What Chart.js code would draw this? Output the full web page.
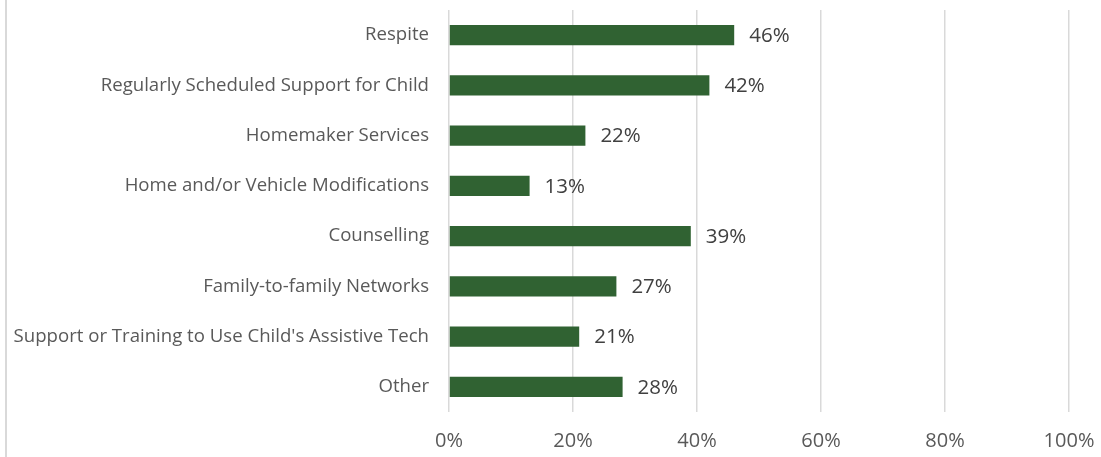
<!DOCTYPE html>
<html>
<head>
<meta charset="utf-8">
<script src="https://cdn.jsdelivr.net/npm/chart.js@4.4.0/dist/chart.umd.min.js"></script>
<style>
  html, body { margin: 0; padding: 0; background: #fff; }
  #wrap { position: relative; width: 1101px; height: 457px; }
  #frame { position: absolute; left: 5px; top: 0; width: 2px; height: 457px; background: #d9d9d9; }
</style>
</head>
<body>
<div id="wrap">
  <div id="frame"></div>
  <canvas id="chart" width="1101" height="457"></canvas>
</div>
<script>
const categories = [
    'Respite',
    'Regularly Scheduled Support for Child',
    'Homemaker Services',
    'Home and/or Vehicle Modifications',
    'Counselling',
    'Family-to-family Networks',
    "Support or Training to Use Child's Assistive Tech",
    'Other'
];
const percentages = [46, 42, 22, 13, 39, 27, 21, 28];
const xTicks = [0, 20, 40, 60, 80, 100];

const FONT = '"Open Sans", Lato, sans-serif';

// Draws the percent label to the right of each bar
const barLabels = {
    id: 'barLabels',
    afterDatasetsDraw(chart) {
        const ctx = chart.ctx;
        const meta = chart.getDatasetMeta(0);
        ctx.save();
        ctx.font = '20.5px ' + FONT;
        ctx.fillStyle = '#404040';
        ctx.textAlign = 'left';
        ctx.textBaseline = 'middle';
        meta.data.forEach((bar, i) => {
            ctx.fillText(percentages[i] + '%', bar.x + 15, bar.y + 1);
        });
        ctx.restore();
    }
};

new Chart(document.getElementById('chart').getContext('2d'), {
    type: 'bar',
    data: {
        labels: categories,
        datasets: [{
            data: percentages,
            backgroundColor: '#306232',
            borderWidth: 0,
            barPercentage: 0.4,
            categoryPercentage: 1
        }]
    },
    options: {
        indexAxis: 'y',
        responsive: false,
        animation: false,
        layout: { padding: { top: 10, right: 32, bottom: 0, left: 0 } },
        plugins: {
            legend: { display: false },
            tooltip: { enabled: false }
        },
        scales: {
            x: {
                min: 0,
                max: 100,
                afterBuildTicks: (scale) => {
                    scale.ticks = xTicks.map(v => ({ value: v }));
                },
                afterFit: (scale) => {
                    scale.height = 45;
                    scale.paddingLeft = 0;
                    scale.paddingRight = 0;
                },
                border: { display: false },
                grid: { color: '#d9d9d9', lineWidth: 1.5, drawTicks: false },
                ticks: {
                    padding: 17,
                    color: '#595959',
                    font: { family: FONT, size: 20 },
                    callback: (v) => v + '%'
                }
            },
            y: {
                afterFit: (scale) => {
                    scale.width = 449;
                    scale.paddingTop = 0;
                    scale.paddingBottom = 0;
                },
                border: { display: false },
                grid: { display: false, drawTicks: false },
                ticks: {
                    padding: 20,
                    color: '#595959',
                    font: { family: FONT, size: 18.6 }
                }
            }
        }
    },
    plugins: [barLabels]
});
</script>
</body>
</html>
